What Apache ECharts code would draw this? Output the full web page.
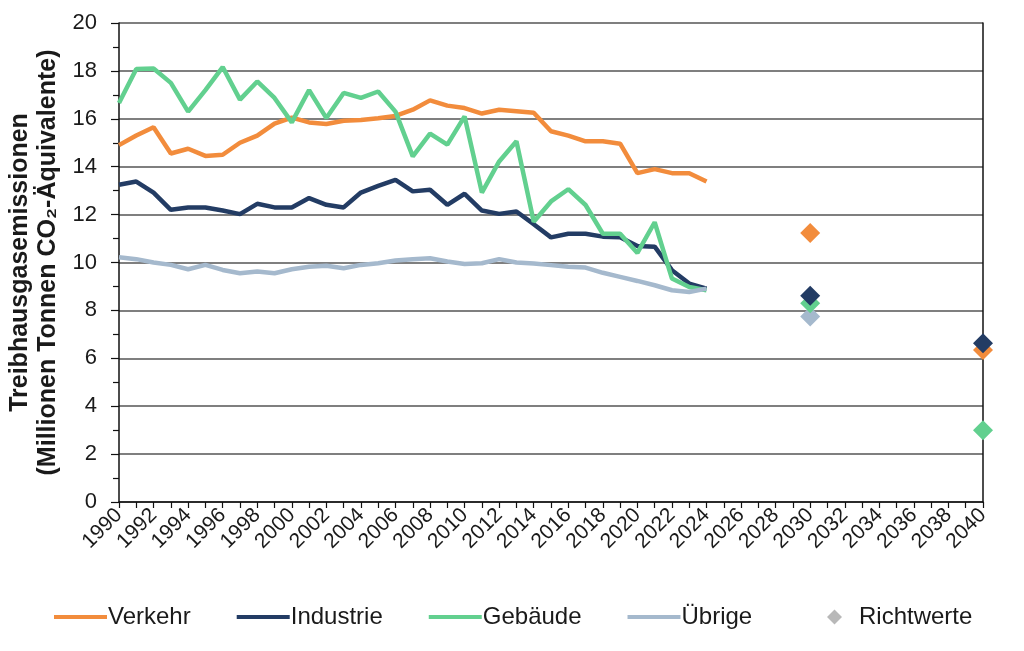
<!DOCTYPE html>
<html>
<head>
<meta charset="utf-8">
<script src="https://cdn.jsdelivr.net/npm/echarts@6/dist/echarts.min.js"></script>
<style>html,body{margin:0;padding:0;background:#fff;}#c{width:1024px;height:651px;}</style>
</head>
<body>
<div id="c"></div>
<script>
const years = [1990,1991,1992,1993,1994,1995,1996,1997,1998,1999,2000,2001,2002,2003,2004,2005,2006,2007,2008,2009,2010,2011,2012,2013,2014,2015,2016,2017,2018,2019,2020,2021,2022,2023,2024];
const verkehr = [14.9,15.3,15.65,14.55,14.75,14.45,14.5,15.0,15.3,15.8,16.05,15.85,15.78,15.92,15.95,16.02,16.12,16.38,16.77,16.55,16.45,16.22,16.38,16.32,16.25,15.48,15.3,15.06,15.06,14.96,13.73,13.9,13.73,13.73,13.38];
const industrie = [13.25,13.38,12.92,12.2,12.3,12.3,12.17,12.02,12.45,12.3,12.3,12.69,12.41,12.3,12.92,13.2,13.45,12.97,13.04,12.41,12.87,12.17,12.03,12.13,11.6,11.05,11.2,11.2,11.08,11.05,10.69,10.66,9.68,9.12,8.91];
const gebaeude = [16.66,18.08,18.1,17.5,16.3,17.2,18.16,16.8,17.56,16.87,15.85,17.2,16.03,17.08,16.87,17.14,16.3,14.43,15.38,14.92,16.1,12.92,14.22,15.06,11.7,12.55,13.06,12.4,11.2,11.2,10.4,11.68,9.33,8.98,8.84];
const uebrige = [10.22,10.14,10.0,9.9,9.72,9.9,9.69,9.55,9.62,9.55,9.72,9.82,9.86,9.76,9.9,9.97,10.08,10.14,10.18,10.04,9.94,9.97,10.14,10.0,9.96,9.89,9.82,9.79,9.57,9.4,9.23,9.05,8.84,8.77,8.91];
const targetYears = [2030, 2040];
const targetVerkehr = [11.23, 6.35];
const targetIndustrie = [8.61, 6.63];
const targetGebaeude = [8.3, 3.0];
const targetUebrige = [7.75, null];
const yTicks = [0,2,4,6,8,10,12,14,16,18,20];

const C = {v:'#F28C3C', i:'#233C64', g:'#62D08F', u:'#A5B9CD', r:'#A6A6A6'};
const pair = (xs, ys) => xs.map((x, k) => [x, ys[k]]).filter(p => p[1] !== null);

function lineSeries(name, vals, color) {
  return {name, type:'line', data: pair(years, vals), symbol:'none', showSymbol:false,
    lineStyle:{color, width:4.5}, itemStyle:{color}, z:3, animation:false};
}
function targetSeries(name, vals, color, z) {
  return {name, type:'scatter', data: pair(targetYears, vals), symbol:'diamond', symbolSize:20,
    itemStyle:{color, opacity:1}, clip:false, z, animation:false};
}

const chart = echarts.init(document.getElementById('c'));
chart.setOption({
  backgroundColor:'#fff',
  textStyle:{fontFamily:'Liberation Sans, Arial, sans-serif'},
  grid:{left:119, right:41, top:23, bottom:149, containLabel:false, outerBoundsMode:'none'},
  legend:[
    {data:[{name:'Verkehr',icon:'rect'},{name:'Industrie',icon:'rect'},{name:'Gebäude',icon:'rect'},{name:'Übrige',icon:'rect'}],
     left:49, top:600, itemWidth:53, itemHeight:4, itemGap:46,
     textStyle:{fontSize:24, color:'#1a1a1a', padding:[0,0,0,-4]}},
    {data:[{name:'Richtwerte', icon:'diamond'}], left:822, top:600, itemWidth:15, itemHeight:15,
     textStyle:{fontSize:24, color:'#1a1a1a', padding:[0,0,0,12]}}
  ],
  xAxis:{type:'value', min:1990, max:2040, interval:2,
    axisLine:{show:true, lineStyle:{color:'#111', width:1.5}},
    axisTick:{show:true, length:6, lineStyle:{color:'#111', width:1.2}},
    minorTick:{show:true, splitNumber:2, length:6, lineStyle:{color:'#111', width:1.2}},
    splitLine:{show:false},
    axisLabel:{rotate:45, fontSize:21, color:'#1a1a1a', margin:10, formatter: v => String(v)}},
  yAxis:[
    {type:'value', min:0, max:20, interval:2,
     name:'Treibhausgasemissionen\n(Millionen Tonnen CO₂-Äquivalente)',
     nameLocation:'middle', nameRotate:90, nameGap:56,
     nameTextStyle:{fontSize:25, fontWeight:'bold', color:'#1a1a1a', lineHeight:28},
     axisLine:{show:true, lineStyle:{color:'#111', width:1.5}},
     axisTick:{show:true, length:8, lineStyle:{color:'#111', width:1.2}},
     minorTick:{show:true, splitNumber:2, length:6, lineStyle:{color:'#111', width:1.2}},
     splitLine:{show:true, lineStyle:{color:'#555', width:1.5}},
     axisLabel:{fontSize:22, color:'#1a1a1a', margin:22, customValues: yTicks}},
    {type:'value', min:0, max:20, position:'right',
     axisLine:{show:true, lineStyle:{color:'#111', width:1.5}},
     axisTick:{show:false}, axisLabel:{show:false}, splitLine:{show:false}}
  ],
  series:[
    lineSeries('Verkehr', verkehr, C.v),
    lineSeries('Industrie', industrie, C.i),
    lineSeries('Gebäude', gebaeude, C.g),
    lineSeries('Übrige', uebrige, C.u),
    targetSeries('Ziel Übrige', targetUebrige, C.u, 5),
    targetSeries('Ziel Gebäude', targetGebaeude, C.g, 6),
    targetSeries('Ziel Verkehr', targetVerkehr, C.v, 7),
    targetSeries('Ziel Industrie', targetIndustrie, C.i, 8),
    {name:'Richtwerte', type:'scatter', data:[], symbol:'diamond', itemStyle:{color:C.r}}
  ]
});
</script>
</body>
</html>
